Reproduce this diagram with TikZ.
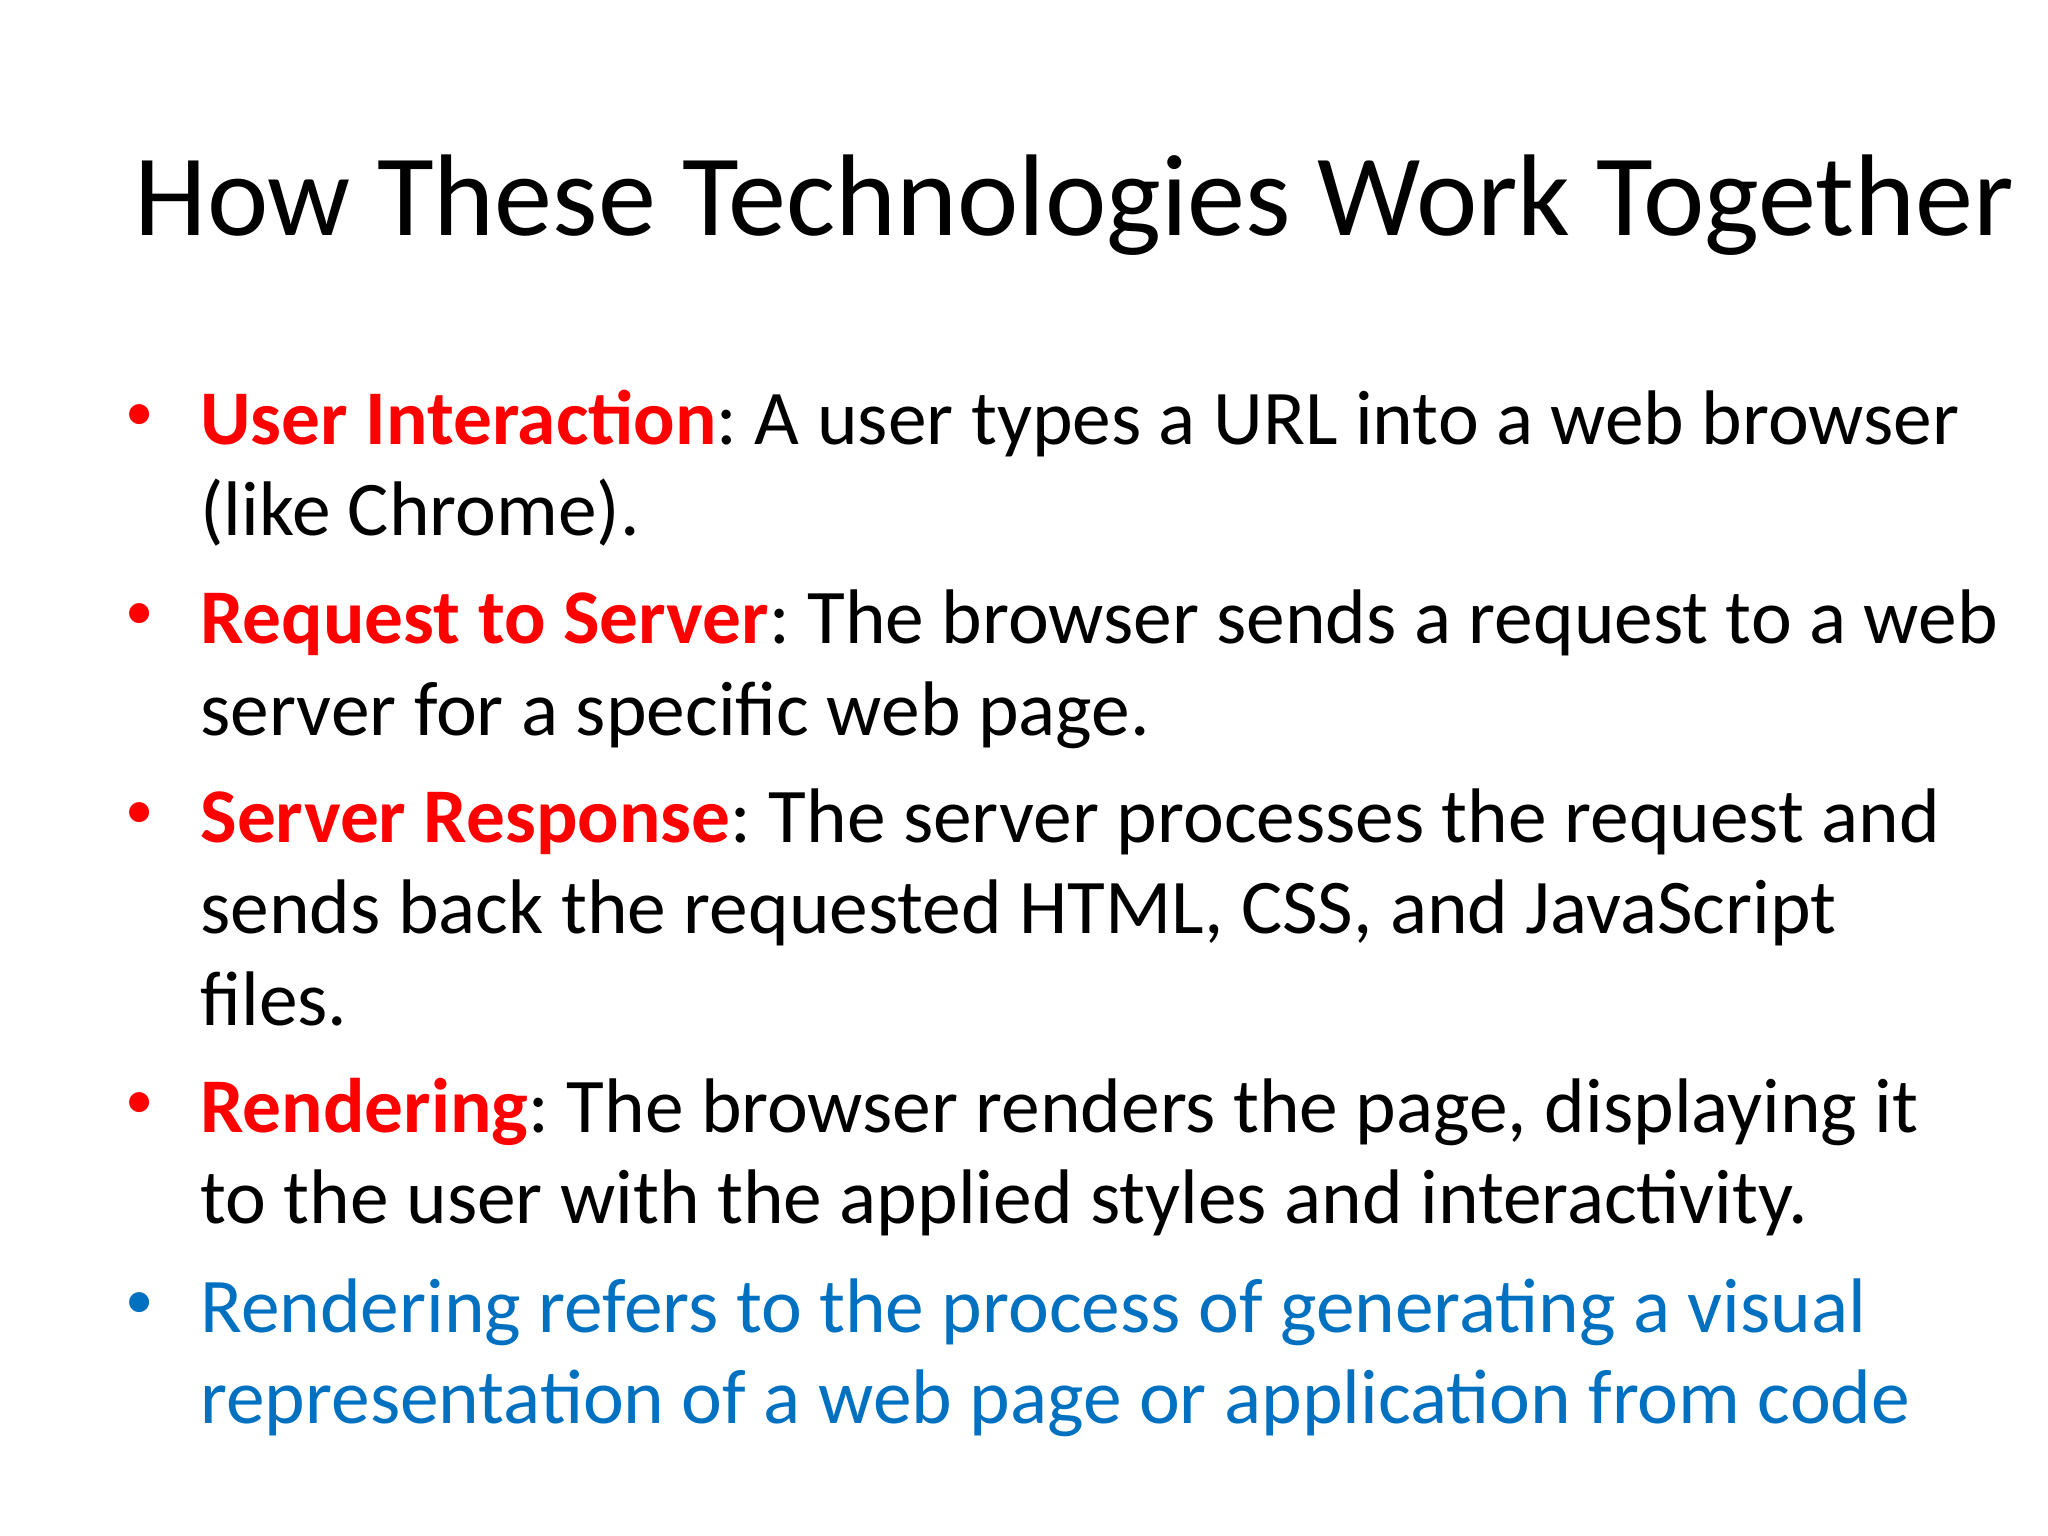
\documentclass[tikz,border=0pt]{standalone}
\usepackage{fontspec}
\setmainfont{Carlito}
\definecolor{kred}{HTML}{FF0000}
\definecolor{kblue}{HTML}{0070C0}
\frenchspacing
\begin{document}
\begin{tikzpicture}[x=1in,y=1in,
  ln/.style={anchor=base west,inner sep=0pt,font=\fontsize{27.3}{34}\selectfont\frenchspacing},
  bul/.style={anchor=base west,inner sep=0pt,font=\fontsize{20}{24}\selectfont}]
\useasboundingbox[fill=white] (0,0) rectangle (10,-7.5);
\node[anchor=base west,inner sep=0pt,font=\fontsize{41}{50}\selectfont] (title) at (0.655,-1.148) {How These Technologies Work Together};
\node[bul,text=kred] (b1) at (0.61,-2.10) {•};
\node[ln] (l1) at (0.976,-2.168) {\textcolor{kred}{\textbf{User Interaction}}: A user types a URL into a web browser};
\node[ln] (l2) at (0.976,-2.615) {(like Chrome).};
\node[bul,text=kred] (b2) at (0.61,-3.076) {•};
\node[ln] (l3) at (0.976,-3.144) {\textcolor{kred}{\textbf{Request to Server}}: The browser sends a request to a web};
\node[ln] (l4) at (0.976,-3.591) {server for a specific web page.};
\node[bul,text=kred] (b3) at (0.61,-4.045) {•};
\node[ln] (l5) at (0.976,-4.113) {\textcolor{kred}{\textbf{Server Response}}: The server processes the request and};
\node[ln] (l6) at (0.976,-4.560) {sends back the requested HTML, CSS, and JavaScript};
\node[ln] (l7) at (0.976,-5.006) {files.};
\node[bul,text=kred] (b4) at (0.61,-5.461) {•};
\node[ln] (l8) at (0.976,-5.529) {\textcolor{kred}{\textbf{Rendering}}: The browser renders the page, displaying it};
\node[ln] (l9) at (0.976,-5.976) {to the user with the applied styles and interactivity.};
\node[bul,text=kblue] (b5) at (0.61,-6.437) {•};
\node[ln,text=kblue] (l10) at (0.976,-6.505) {Rendering refers to the process of generating a visual};
\node[ln,text=kblue] (l11) at (0.976,-6.952) {representation of a web page or application from code};
\end{tikzpicture}
\end{document}
